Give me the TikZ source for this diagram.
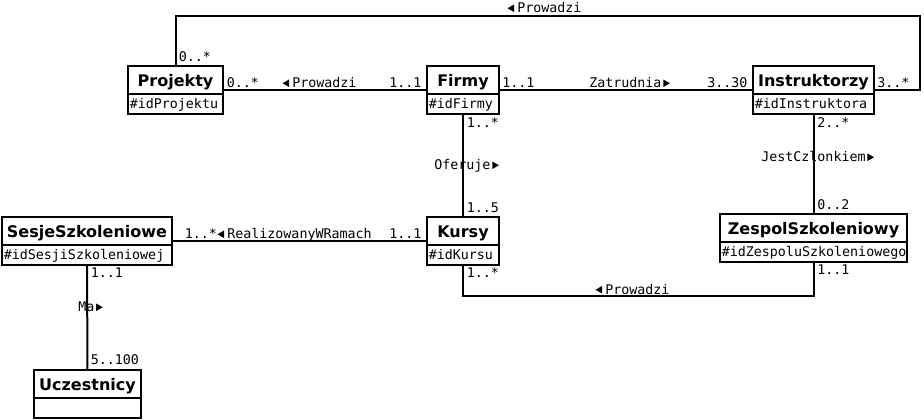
\documentclass[tikz,border=0pt]{standalone}
\usepackage{fontspec}
\setmainfont{DejaVu Sans}
\newfontfamily\monofam{DejaVu Sans Mono}
\newcommand\titlefont{\fontsize{12}{14}\selectfont\bfseries}
\newcommand\attrfont{\monofam\fontsize{10}{12}\selectfont}
\newcommand\labfont{\monofam\fontsize{10}{12}\selectfont}
\newcommand\tril{\llap{\tikz[baseline=0pt,x=0.75pt,y=0.75pt]\fill (0,0.5) -- (0,8) -- (-6.5,4.25) -- cycle;\hspace{2.4pt}}}
\newcommand\trir{\rlap{\hspace{1.4pt}\tikz[baseline=0pt,x=0.75pt,y=0.75pt]\fill (0,0.5) -- (0,8) -- (6.5,4.25) -- cycle;}}
\tikzset{
  clsbox/.style={draw, line width=1.5pt, inner sep=0pt},
  clsname/.style={anchor=base, inner sep=0pt, font=\titlefont},
  clsattr/.style={anchor=base west, inner sep=0pt, font=\attrfont},
  lab/.style={anchor=base west, inner sep=0pt, font=\labfont},
  conn/.style={line width=1.5pt},
}
\newcommand\umlclass[7]{%
  \node[clsbox, minimum width={(#4-#2)*0.75pt}, minimum height={(#5-#3)*0.75pt}] (#1) at ({(#2+#4)/2},{(#3+#5)/2}) {};
  \draw[conn] ({#2},{#3+28}) -- ({#4},{#3+28});
  \node[clsname] (#1-name) at ({(#2+#4)/2},{#3+20}) {#6};
  \node[clsattr] (#1-attr) at ({#2+1.5},{#3+42.5}) {#7};
}
\begin{document}
\begin{tikzpicture}[x=0.75pt, y=-0.75pt]
\useasboundingbox (0,0) rectangle (924,419);
% classes
\umlclass{proj}{128}{66}{223}{114}{Projekty}{\#idProjektu}
\umlclass{firmy}{427}{66}{499}{114}{Firmy}{\#idFirmy}
\umlclass{instr}{753}{66}{874}{114}{Instruktorzy}{\#idInstruktora}
\umlclass{sesje}{2}{217}{172}{265}{SesjeSzkoleniowe}{\#idSesjiSzkoleniowej}
\umlclass{kursy}{427}{217}{499}{265}{Kursy}{\#idKursu}
\umlclass{zesp}{720}{214}{907}{262}{ZespolSzkoleniowy}{\#idZespoluSzkoleniowego}
\umlclass{ucz}{34}{370}{141}{418}{Uczestnicy}{}
% helper coordinates
\coordinate (tr) at (920,16);
\coordinate (bl) at (463,296);
% connectors
\draw[conn] (proj) -- (firmy);
\draw[conn] (firmy) -- (instr);
\draw[conn] (proj.north) |- (tr) |- (instr.east);
\draw[conn] (firmy) -- (kursy);
\draw[conn] (instr) -- (zesp);
\draw[conn] (sesje) -- (kursy);
\draw[conn] (sesje) -- (ucz);
\draw[conn] (kursy.south) -- (bl) -| (zesp.south);
% association labels
\node[lab] (l-prow1) at (517,12.5) {\tril Prowadzi};
\node[lab] (l-prow2) at (292,87.5) {\tril Prowadzi};
\node[lab] (l-zatr) at (589,87.5) {Zatrudnia\trir};
\node[lab] (l-ofer) at (434,169.5) {Oferuje\trir};
\node[lab] (l-jest) at (761,161.5) {JestCzlonkiem\trir};
\node[lab] (l-real) at (227,238.5) {\tril RealizowanyWRamach};
\node[lab] (l-ma) at (78,311.5) {Ma\trir};
\node[lab] (l-prow3) at (605,294) {\tril Prowadzi};
% multiplicities
\node[lab] (m1) at (178.5,61.5) {0..*};
\node[lab] (m2) at (226.5,87.5) {0..*};
\node[lab] (m3) at (389,87.5) {1..1};
\node[lab] (m4) at (502,87.5) {1..1};
\node[lab] (m5) at (707,87.5) {3..30};
\node[lab] (m6) at (877,87.5) {3..*};
\node[lab] (m7) at (466.5,127.5) {1..*};
\node[lab] (m8) at (466.5,212.5) {1..5};
\node[lab] (m9) at (817,127.5) {2..*};
\node[lab] (m10) at (817,209.5) {0..2};
\node[lab] (m11) at (184.5,238.5) {1..*};
\node[lab] (m12) at (389,238.5) {1..1};
\node[lab] (m13) at (90.5,277.5) {1..1};
\node[lab] (m14) at (90.5,364.5) {5..100};
\node[lab] (m15) at (466.5,277.5) {1..*};
\node[lab] (m16) at (817,274.5) {1..1};
\end{tikzpicture}
\end{document}
